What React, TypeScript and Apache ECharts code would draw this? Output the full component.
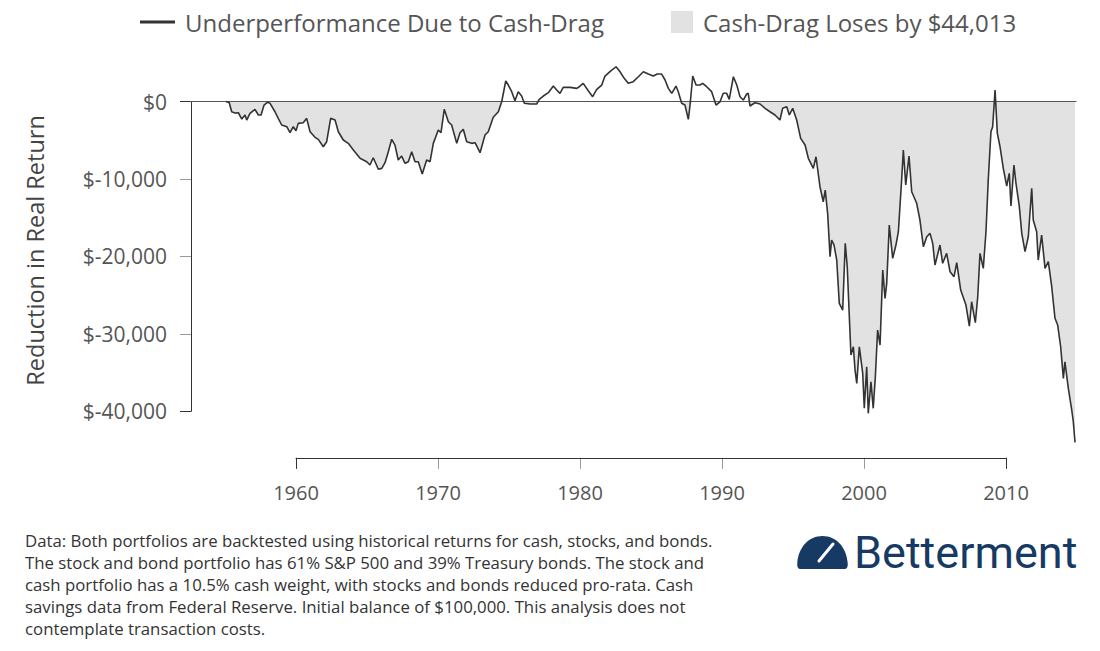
import React, { useEffect, useRef } from "react";
import * as echarts from "echarts";

const years = [
  1955.07, 1955.3, 1955.47, 1955.7, 1955.94, 1956.18, 1956.41, 1956.53, 1956.76, 1957.11,
  1957.35, 1957.54, 1957.75, 1957.98, 1958.17, 1958.52, 1958.75, 1958.99, 1959.35, 1959.58,
  1959.81, 1960.0, 1960.16, 1960.51, 1960.75, 1960.99, 1961.34, 1961.57, 1961.92, 1962.16,
  1962.44, 1962.75, 1962.98, 1963.33, 1963.68, 1964.04, 1964.51, 1964.98, 1965.21, 1965.44,
  1965.8, 1966.04, 1966.27, 1966.5, 1966.74, 1966.97, 1967.2, 1967.44, 1967.68, 1967.91,
  1968.15, 1968.38, 1968.61, 1968.89, 1969.2, 1969.44, 1969.67, 1970.02, 1970.21, 1970.44,
  1970.73, 1970.96, 1971.32, 1971.55, 1971.78, 1972.02, 1972.37, 1972.61, 1972.96, 1973.31,
  1973.54, 1973.89, 1974.25, 1974.49, 1974.77, 1974.95, 1975.19, 1975.42, 1975.65, 1975.89,
  1976.08, 1976.48, 1976.95, 1977.13, 1977.42, 1977.77, 1978.12, 1978.36, 1978.59, 1978.82,
  1979.3, 1979.77, 1979.95, 1980.23, 1980.58, 1980.89, 1981.18, 1981.53, 1981.76, 1982.11,
  1982.54, 1982.82, 1983.1, 1983.4, 1983.75, 1984.11, 1984.46, 1984.81, 1985.16, 1985.44,
  1985.75, 1985.99, 1986.22, 1986.46, 1986.76, 1986.92, 1987.16, 1987.39, 1987.63, 1987.75,
  1987.94, 1988.17, 1988.45, 1988.64, 1988.92, 1989.27, 1989.58, 1989.86, 1990.09, 1990.33,
  1990.51, 1990.8, 1991.04, 1991.27, 1991.5, 1991.74, 1991.85, 1991.97, 1992.32, 1992.68,
  1993.03, 1993.38, 1993.73, 1994.08, 1994.27, 1994.56, 1994.74, 1994.98, 1995.26, 1995.54,
  1995.85, 1996.08, 1996.43, 1996.62, 1996.9, 1997.13, 1997.27, 1997.44, 1997.61, 1997.72,
  1997.89, 1998.08, 1998.26, 1998.5, 1998.68, 1998.82, 1999.08, 1999.25, 1999.37, 1999.49,
  1999.67, 1999.91, 2000.02, 2000.19, 2000.3, 2000.49, 2000.65, 2000.8, 2000.96, 2001.13,
  2001.32, 2001.48, 2001.6, 2001.78, 2002.02, 2002.25, 2002.42, 2002.65, 2002.77, 2002.94,
  2003.17, 2003.36, 2003.71, 2003.94, 2004.18, 2004.42, 2004.65, 2004.84, 2005.0, 2005.35,
  2005.54, 2005.82, 2006.06, 2006.34, 2006.53, 2006.81, 2007.18, 2007.42, 2007.58, 2007.84,
  2008.01, 2008.17, 2008.4, 2008.59, 2008.75, 2008.94, 2009.06, 2009.23, 2009.39, 2009.58,
  2009.81, 2010.05, 2010.23, 2010.35, 2010.56, 2010.7, 2010.94, 2011.11, 2011.34, 2011.57,
  2011.81, 2011.92, 2012.16, 2012.27, 2012.51, 2012.75, 2012.98, 2013.22, 2013.45, 2013.64,
  2013.85, 2014.04, 2014.15, 2014.39, 2014.63, 2014.74, 2014.86,
];

const values = [
  0, -160, -1320, -1490, -1450, -2260, -1740, -2390, -1520, -1010,
  -1740, -1740, -450, -100, -230, -1320, -2170, -3030, -3250, -4030,
  -3250, -3770, -2820, -2740, -2170, -3900, -4620, -4880, -5840, -5190,
  -2170, -2390, -3900, -4970, -5400, -6260, -7330, -7770, -8200, -7260,
  -8750, -8630, -7900, -6480, -4880, -5620, -7550, -7040, -7980, -7770,
  -6480, -7770, -7770, -9360, -7550, -7770, -5400, -3680, -4030, -1010,
  -2610, -3030, -5400, -4030, -3590, -5190, -5400, -5320, -6610, -4330,
  -3900, -2040, -1320, 0, 2650, 2130, 1270, 100, 1270, 710,
  -230, -320, -320, 280, 710, 1140, 2000, 1490, 1060, 1830,
  1830, 1700, 1910, 2350, 1390, 620, 1580, 2130, 3290, 3850,
  4490, 3850, 3030, 2350, 2560, 3200, 3850, 3550, 3290, 3550,
  3550, 2780, 1700, 1060, 2000, 1270, -230, -450, -2300, -450,
  3290, 2130, 2130, 2350, 1910, 1270, -450, -30, 1060, 1060,
  280, 3200, 2130, 620, 190, 970, 1060, -580, -160, -320,
  -880, -1320, -1740, -2390, -880, -670, -1740, -880, -2390, -4750,
  -5620, -7330, -8630, -7130, -11000, -12940, -11430, -14440, -20040, -17880,
  -18530, -20470, -26060, -26920, -18310, -21330, -32730, -31660, -34670, -36390,
  -31660, -35090, -39610, -34240, -40260, -36180, -39610, -35530, -29500, -31440,
  -21760, -25410, -23470, -15950, -20250, -18530, -16810, -10140, -6260, -10780,
  -7040, -11650, -13140, -15300, -18750, -17460, -17020, -18310, -21110, -18530,
  -20890, -19600, -21980, -22620, -20810, -24340, -26280, -28990, -25850, -28560,
  -25200, -19600, -21540, -16810, -10140, -3900, -3250, 1490, -4110, -5840,
  -8630, -10910, -9270, -13490, -8200, -10520, -13580, -17020, -19390, -17460,
  -11210, -15300, -16810, -20470, -17240, -21540, -20680, -23910, -27990, -28860,
  -31660, -35740, -33600, -37030, -39830, -41340, -44013,
];

const xTickYears = [1960, 1970, 1980, 1990, 2000, 2010];
const yTickValues = [0, -10000, -20000, -30000, -40000];

const lineName = "Underperformance Due to Cash-Drag";
const areaName = "Cash-Drag Loses by $44,013";
const yTitle = "Reduction in Real Return";
const footnoteLines = [
  "Data: Both portfolios are backtested using historical returns for cash, stocks, and bonds.",
  "The stock and bond portfolio has 61% S&P 500 and 39% Treasury bonds. The stock and",
  "cash portfolio has a 10.5% cash weight, with stocks and bonds reduced pro-rata. Cash",
  "savings data from Federal Reserve. Initial balance of $100,000. This analysis does not",
  "contemplate transaction costs.",
];
const brandName = "Betterment";

const FONT = "'Open Sans', sans-serif";
const NAVY = "#163a64";

const LOGO_PATH =
  "M4 33 C1 33 0 31 0.3 27 C1.5 11 12 0 25.5 0 C39 0 49.5 11 50.7 27 C51 31 50 33 47 33 Z";

let registered = false;
function registerLogo() {
  if (registered) return;
  echarts.graphic.registerShape("bmLogo", echarts.graphic.extendPath(LOGO_PATH, {}) as any);
  registered = true;
}

export default function App() {
  const ref = useRef<HTMLDivElement>(null);

  useEffect(() => {
    if (!ref.current) return;
    registerLogo();
    const chart = echarts.init(ref.current, undefined, { renderer: "svg" });

    const lineData = years.map((y, i) => [y, values[i]]);
    const areaData = years.map((y, i) => [y, Math.min(values[i], 0)]);

    const xMin = xTickYears[0];
    const xMax = xTickYears[xTickYears.length - 1];
    const xStep = xTickYears[1] - xTickYears[0];
    const yMax = yTickValues[0];
    const yMin = yTickValues[yTickValues.length - 1];
    const yStep = yTickValues[0] - yTickValues[1];

    const axisLabelStyle = { fontFamily: FONT, fontSize: 20, color: "#555" };

    const option: any = {
      animation: false,
      textStyle: { fontFamily: FONT },
      legend: [
        {
          left: 140,
          top: 10,
          padding: 0,
          itemWidth: 35,
          itemHeight: 3,
          icon: "rect",
          selectedMode: false,
          data: [{ name: lineName, itemStyle: { color: "#333" } }],
          textStyle: { fontFamily: FONT, fontSize: 24, color: "#555", padding: [0, 0, 0, 5] },
        },
        {
          left: 671,
          top: 10,
          padding: 0,
          itemWidth: 22,
          itemHeight: 22,
          icon: "rect",
          selectedMode: false,
          data: [{ name: areaName, itemStyle: { color: "#e2e2e2" } }],
          textStyle: { fontFamily: FONT, fontSize: 24, color: "#555", padding: [0, 0, 0, 5] },
        },
      ],
      grid: [
        { left: 190, right: 23.5, top: 62.8, height: 395 },
        { left: 296, width: 710, top: 101.5, height: 356.3 },
        { left: 191, width: 700, top: 101.5, height: 309.8 },
      ],
      xAxis: [
        { gridIndex: 0, type: "value", min: 1952.535, max: 2014.965, show: false },
        {
          gridIndex: 1,
          type: "value",
          min: xMin,
          max: xMax,
          interval: xMax - xMin,
          position: "bottom",
          z: 3,
          axisLine: { show: true, onZero: false, lineStyle: { color: "#333", width: 1 } },
          axisTick: { show: true, length: 11, lineStyle: { color: "#333", width: 1 } },
          axisLabel: { show: false },
          splitLine: { show: false },
        },
        {
          gridIndex: 1,
          type: "value",
          min: xMin,
          max: xMax,
          interval: xStep,
          position: "bottom",
          axisLine: { show: false, onZero: false },
          axisTick: { show: true, length: 11, lineStyle: { color: "#9a9a9a", width: 1 } },
          axisLabel: { show: true, margin: 25, ...axisLabelStyle, formatter: (v: number) => String(v) },
          splitLine: { show: false },
        },
        { gridIndex: 2, type: "value", min: 0, max: 1, show: false },
      ],
      yAxis: [
        { gridIndex: 0, type: "value", min: -46000, max: 5000, show: false },
        { gridIndex: 1, type: "value", min: 0, max: 1, show: false },
        {
          gridIndex: 2,
          type: "value",
          min: yMin,
          max: yMax,
          interval: yMax - yMin,
          position: "left",
          z: 3,
          axisLine: { show: true, onZero: false, lineStyle: { color: "#333", width: 1 } },
          axisTick: { show: true, length: 11, lineStyle: { color: "#333", width: 1 } },
          axisLabel: { show: false },
          splitLine: { show: false },
          name: yTitle,
          nameLocation: "middle",
          nameRotate: 90,
          nameGap: 144,
          nameTextStyle: { fontFamily: FONT, fontSize: 23.5, color: "#444", padding: [0, 0, 0, 12] },
        },
        {
          gridIndex: 2,
          type: "value",
          min: yMin,
          max: yMax,
          interval: yStep,
          position: "left",
          axisLine: { show: false, onZero: false },
          axisTick: { show: true, length: 11, lineStyle: { color: "#9a9a9a", width: 1 } },
          axisLabel: {
            show: true,
            margin: 24,
            ...axisLabelStyle,
            fontSize: 21,
            formatter: (v: number) => "$" + v.toLocaleString("en-US"),
          },
          splitLine: { show: false },
        },
      ],
      series: [
        {
          name: areaName,
          type: "line",
          xAxisIndex: 0,
          yAxisIndex: 0,
          data: areaData,
          symbol: "none",
          showSymbol: false,
          silent: true,
          z: 1,
          itemStyle: { color: "#e2e2e2" },
          lineStyle: { width: 0, opacity: 0 },
          areaStyle: { color: "#e2e2e2", opacity: 1, origin: 0 },
          markLine: {
            silent: true,
            symbol: ["none", "none"],
            label: { show: false },
            lineStyle: { color: "#555", width: 1, type: "solid" },
            data: [{ yAxis: 0 }],
          },
        },
        {
          name: lineName,
          type: "line",
          xAxisIndex: 0,
          yAxisIndex: 0,
          data: lineData,
          symbol: "none",
          showSymbol: false,
          z: 6,
          itemStyle: { color: "#333" },
          lineStyle: { color: "#333", width: 1.6 },
        },
      ],
      graphic: [
        {
          type: "text",
          left: 25,
          top: 529,
          style: {
            text: footnoteLines.join("\n"),
            fontFamily: FONT,
            fontSize: 16.8,
            lineHeight: 22,
            fill: "#333",
          },
        },
        { type: "bmLogo", x: 797, y: 536, style: { fill: NAVY } },
        {
          type: "line",
          shape: { x1: 819, y1: 561, x2: 833, y2: 544 },
          style: { stroke: "#fff", lineWidth: 3, lineCap: "round" },
        },
        {
          type: "text",
          x: 854,
          y: 552,
          style: {
            text: brandName,
            fontFamily: "Roboto, sans-serif",
            fontSize: 45,
            fill: NAVY,
            verticalAlign: "middle",
          },
        },
      ],
    };

    chart.setOption(option);
    return () => chart.dispose();
  }, []);

  return (
    <div
      ref={ref}
      style={{ position: "absolute", left: 0, top: 0, width: 1100, height: 651 }}
    />
  );
}
